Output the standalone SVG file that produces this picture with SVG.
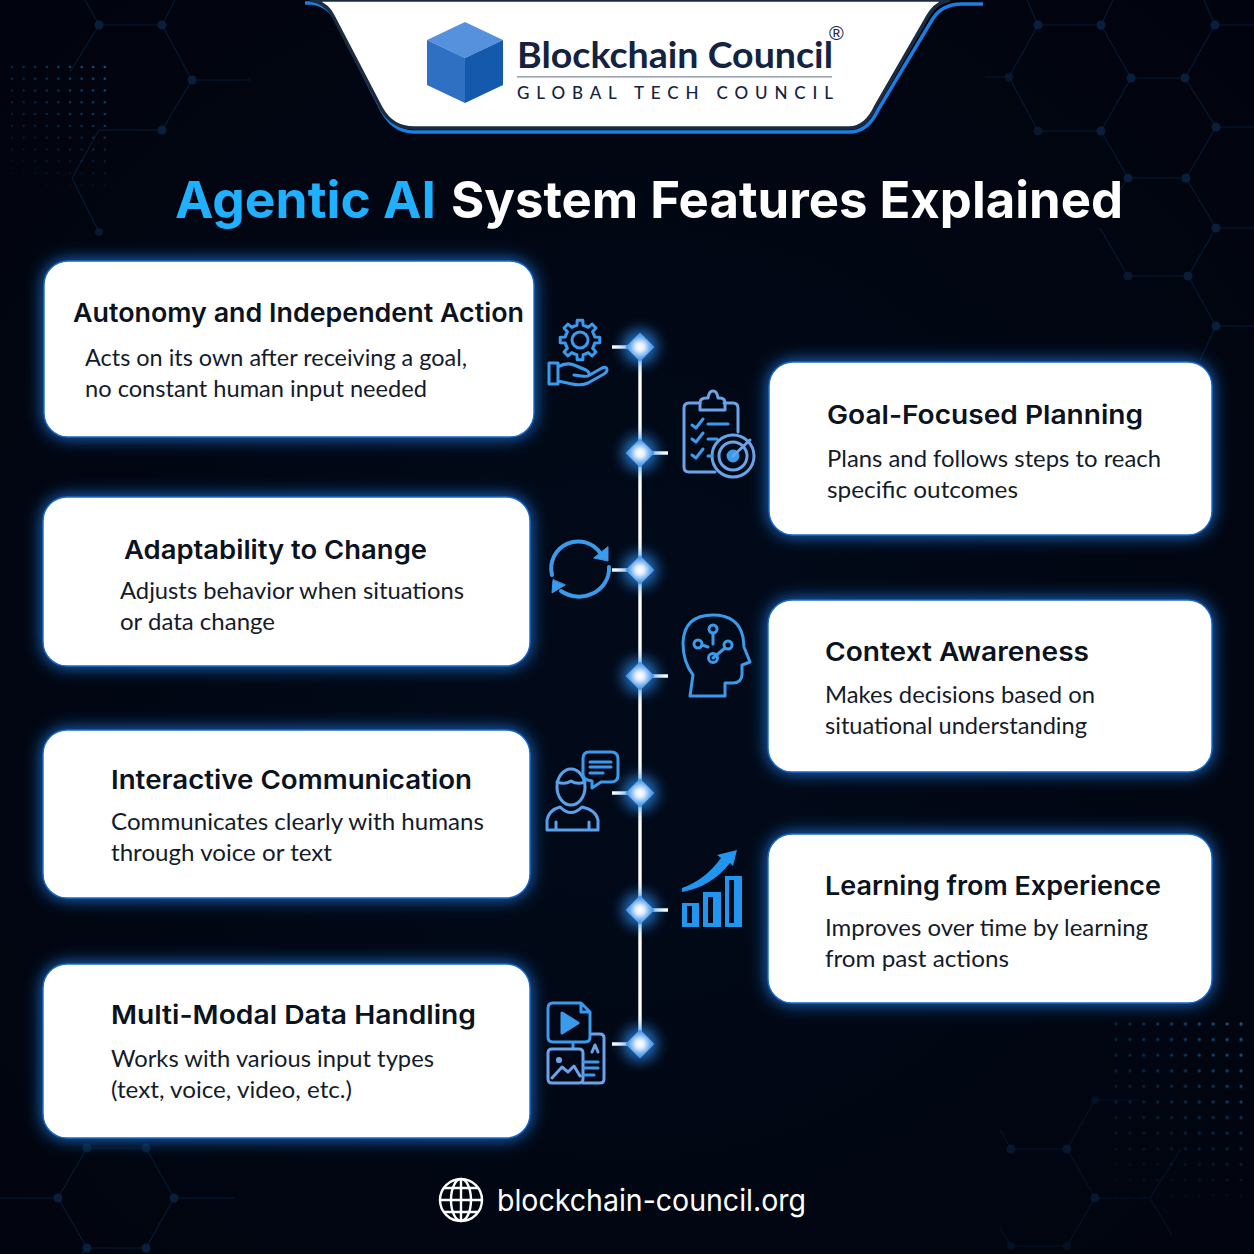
<svg xmlns="http://www.w3.org/2000/svg" width="1254" height="1254" viewBox="0 0 1254 1254">
<style>
.t{font-family:"Inter","Liberation Sans",sans-serif;font-weight:600;font-size:26px;fill:#0b1220}
.b{font-family:"Lato","Liberation Sans",sans-serif;font-weight:400;font-size:23.5px;fill:#141b2b}
.card{fill:#fff;stroke:#1a68c8;stroke-width:1.4}
.glow{fill:#1a7ce8;filter:url(#blur)}
.hex{fill:none;stroke:#0a2240;stroke-width:1.2}
.hexn{fill:#08203c}
.ic{fill:none;stroke:#3a9bec;stroke-width:3;stroke-linecap:round;stroke-linejoin:round}
.ic2{fill:none;stroke:#6ba3e8;stroke-width:3;stroke-linecap:round;stroke-linejoin:round}
.wl{stroke:#fff;stroke-width:3.4;fill:none}
.gl{fill:none;stroke:#fff;stroke-width:2.4}
</style>
<defs>
<filter id="blur" x="-15%" y="-25%" width="130%" height="150%"><feGaussianBlur stdDeviation="9"/></filter>
<filter id="dg" x="-150%" y="-150%" width="400%" height="400%"><feGaussianBlur stdDeviation="7"/></filter>
<radialGradient id="bg" cx="50%" cy="55%" r="70%"><stop offset="0" stop-color="#020a1a"/><stop offset="1" stop-color="#01040e"/></radialGradient>
<radialGradient id="dia" cx="50%" cy="50%" r="58%"><stop offset="0" stop-color="#fff"/><stop offset=".25" stop-color="#e4effc"/><stop offset=".6" stop-color="#6aaaf0"/><stop offset="1" stop-color="#1a80e2"/></radialGradient>
<linearGradient id="fv" x1="0" x2="0" y1="0" y2="1"><stop offset="0" stop-color="#fff"/><stop offset=".5" stop-color="#999"/><stop offset="1" stop-color="#111"/></linearGradient>
<linearGradient id="fh" x1="0" x2="1" y1="0" y2="0"><stop offset="0" stop-color="#555"/><stop offset="1" stop-color="#fff"/></linearGradient>
<mask id="m1" maskUnits="userSpaceOnUse" x="0" y="60" width="112" height="130"><rect x="0" y="60" width="112" height="130" fill="url(#fv)"/></mask>
<mask id="m1h" maskUnits="userSpaceOnUse" x="0" y="60" width="112" height="130"><rect x="0" y="60" width="112" height="130" fill="url(#fh)"/></mask>
<mask id="m2" maskUnits="userSpaceOnUse" x="1105" y="1016" width="149" height="190"><rect x="1105" y="1016" width="149" height="190" fill="url(#fv)"/></mask>
<mask id="m2h" maskUnits="userSpaceOnUse" x="1105" y="1016" width="149" height="190"><rect x="1105" y="1016" width="149" height="190" fill="url(#fh)"/></mask>
<pattern id="p1" patternUnits="userSpaceOnUse" x="6.2" y="61" width="11.6" height="11.8"><circle cx="5.8" cy="5.9" r="1.3" fill="#17609e"/></pattern>
<pattern id="p2" patternUnits="userSpaceOnUse" x="1109" y="1016.2" width="13.9" height="15.6"><circle cx="6.95" cy="7.8" r="1.6" fill="#17609e"/></pattern>
<g id="d"><circle r="17" fill="#2a8ef0" opacity=".8" filter="url(#dg)"/><path d="M0-14.5 14.5 0 0 14.5-14.5 0Z" fill="url(#dia)"/></g>
<path id="gt" d="M-5.74-13.86-3.12-14.67-2.78-19.8 2.78-19.8 3.12-14.67 5.74-13.86"/>
</defs>
<rect width="1254" height="1254" fill="url(#bg)"/>

<g id="background">
<g opacity=".75">
<path class="hex" d="M85 0 99 25H162L175 0M99 25 70 72M162 25 192 80 162 130H99L72 178 99 232M192 80H250"/>
<path class="hex" d="M1027 0 1038 25H1101L1113 0M1038 25 1009 77 1038 131H1101L1131 78 1101 25M1009 77H985M1131 78H1185L1215 25 1204 0M1215 25H1254M1185 78 1216 127H1254M1101 131 1128 178H1186L1216 127M1186 178 1216 228H1254M1216 228 1188 276H1128L1100 228M1188 276 1216 326H1254M1216 326 1200 360M1128 178 1120 190"/>
<path class="hex" d="M0 1198H58L87 1148H146L174 1198 146 1248H87L58 1198M174 1198H235M87 1248 82 1254M146 1248 150 1254"/>
</g>
<path class="hex" opacity=".5" d="M1011 1149H1067L1095 1198H1150L1172 1235M1067 1149 1095 1100H1140M1011 1149 1000 1130M1095 1198 1067 1246H1011L1000 1228M1150 1198 1180 1150"/>
<g class="hexn">
<circle cx="99" cy="25" r="4.5"/><circle cx="162" cy="25" r="4.5"/><circle cx="192" cy="80" r="4.5"/><circle cx="162" cy="130" r="4.5"/><circle cx="99" cy="232" r="4" opacity=".7"/>
<circle cx="1038" cy="25" r="4.5"/><circle cx="1101" cy="25" r="4.5"/><circle cx="1009" cy="77" r="4.5" opacity=".6"/><circle cx="1131" cy="78" r="4.5"/><circle cx="1185" cy="78" r="4.5"/><circle cx="1215" cy="25" r="4.5"/><circle cx="1038" cy="131" r="4.5" opacity=".7"/><circle cx="1101" cy="131" r="4.5"/><circle cx="1216" cy="127" r="4.5"/><circle cx="1128" cy="178" r="4.5"/><circle cx="1186" cy="178" r="4.5"/><circle cx="1216" cy="228" r="4.5"/><circle cx="1128" cy="276" r="4.5" opacity=".7"/><circle cx="1188" cy="276" r="4.5"/><circle cx="1216" cy="326" r="4.5"/>
<circle cx="87" cy="1148" r="4.5" opacity=".8"/><circle cx="146" cy="1148" r="4.5" opacity=".8"/><circle cx="58" cy="1198" r="4.5"/><circle cx="174" cy="1198" r="4.5"/><circle cx="87" cy="1248" r="4.5"/><circle cx="146" cy="1248" r="4.5"/>
<circle cx="1011" cy="1149" r="4.5" opacity=".7"/><circle cx="1067" cy="1149" r="4.5" opacity=".7"/><circle cx="1095" cy="1198" r="4.5" opacity=".7"/><circle cx="1095" cy="1100" r="4" opacity=".4"/><circle cx="1011" cy="1246" r="4" opacity=".4"/><circle cx="1067" cy="1246" r="4" opacity=".4"/>
</g>
<g mask="url(#m1h)"><rect x="6.2" y="61" width="104.4" height="129.8" fill="url(#p1)" mask="url(#m1)"/></g>
<g mask="url(#m2h)"><rect x="1109" y="1016.2" width="139" height="187.2" fill="url(#p2)" mask="url(#m2)"/></g>
</g>

<g id="header">
<path d="M305 3H312Q328 5 336 20L380 107Q392 132 414 132H849Q868 132 878 110L932 20Q942 3 964 4H983" fill="none" stroke="#1a7fe0" stroke-width="3.5"/>
<path d="M310 0Q326 2 333 16L381 108Q392 128 414 128H849Q866 128 876 106L928 16Q936 2 950 0Z" fill="#fff" stroke="#1d2b40" stroke-width="3.5"/>
<g id="logo">
<path d="M465 22 503 40 465 58 427 40Z" fill="#5591dc"/>
<path d="M427 40 465 58V103L427 85Z" fill="#2f70c2"/>
<path d="M503 40 465 58V103L503 85Z" fill="#1559ad"/>
<text x="517" y="68" textLength="316" lengthAdjust="spacingAndGlyphs" font-family="Lato,'Liberation Sans',sans-serif" font-weight="700" font-size="37" fill="#14233f">Blockchain Council</text>
<rect x="517" y="76" width="315" height="1.6" fill="#9aa5b5"/>
<text x="517" y="99" textLength="316" font-family="Lato,'Liberation Sans',sans-serif" font-weight="500" font-size="17" fill="#14233f">GLOBAL TECH COUNCIL</text>
<text x="829" y="40" font-family="'Liberation Sans',sans-serif" font-size="20" fill="#14233f">®</text>
</g>
</g>

<g id="title" font-family="Inter,'Liberation Sans',sans-serif" font-weight="700" font-size="51">
<text x="175" y="218" textLength="261" lengthAdjust="spacingAndGlyphs" fill="#1fb0ff">Agentic AI</text>
<text x="451" y="218" textLength="672" lengthAdjust="spacingAndGlyphs" fill="#fff">System Features Explained</text>
</g>

<g id="connectors">
<path class="wl" d="M640 347V1044M612 347H627M653 453H668M612 570H627M653 676H668M612 793H627M653 910H668M612 1044H627"/>
<use href="#d" x="640" y="347"/><use href="#d" x="640" y="453"/><use href="#d" x="640" y="570"/><use href="#d" x="640" y="676"/><use href="#d" x="640" y="793"/><use href="#d" x="640" y="910"/><use href="#d" x="640" y="1044"/>
</g>

<g id="card-autonomy"><rect class="glow" x="44" y="261" width="490" height="176" rx="24"/><rect class="card" x="44" y="261" width="490" height="176" rx="24"/>
<text class="t" x="73" y="322" textLength="451" lengthAdjust="spacingAndGlyphs">Autonomy and Independent Action</text>
<text class="b" x="85" y="366" textLength="382" lengthAdjust="spacingAndGlyphs">Acts on its own after receiving a goal,</text>
<text class="b" x="85" y="397" textLength="342" lengthAdjust="spacingAndGlyphs">no constant human input needed</text></g>

<g id="card-goal"><rect class="glow" x="769" y="362" width="443" height="173" rx="24"/><rect class="card" x="769" y="362" width="443" height="173" rx="24"/>
<text class="t" x="827" y="424" textLength="316" lengthAdjust="spacingAndGlyphs">Goal-Focused Planning</text>
<text class="b" x="827" y="467" textLength="334" lengthAdjust="spacingAndGlyphs">Plans and follows steps to reach</text>
<text class="b" x="827" y="498" textLength="191" lengthAdjust="spacingAndGlyphs">specific outcomes</text></g>

<g id="card-adaptability"><rect class="glow" x="43" y="497" width="487" height="169" rx="24"/><rect class="card" x="43" y="497" width="487" height="169" rx="24"/>
<text class="t" x="124" y="559" textLength="303" lengthAdjust="spacingAndGlyphs">Adaptability to Change</text>
<text class="b" x="120" y="599" textLength="344" lengthAdjust="spacingAndGlyphs">Adjusts behavior when situations</text>
<text class="b" x="120" y="630" textLength="155" lengthAdjust="spacingAndGlyphs">or data change</text></g>

<g id="card-context"><rect class="glow" x="768" y="600" width="444" height="172" rx="24"/><rect class="card" x="768" y="600" width="444" height="172" rx="24"/>
<text class="t" x="825" y="661" textLength="264" lengthAdjust="spacingAndGlyphs">Context Awareness</text>
<text class="b" x="825" y="703" textLength="270" lengthAdjust="spacingAndGlyphs">Makes decisions based on</text>
<text class="b" x="825" y="734" textLength="262" lengthAdjust="spacingAndGlyphs">situational understanding</text></g>

<g id="card-communication"><rect class="glow" x="43" y="730" width="487" height="168" rx="24"/><rect class="card" x="43" y="730" width="487" height="168" rx="24"/>
<text class="t" x="111" y="789" textLength="361" lengthAdjust="spacingAndGlyphs">Interactive Communication</text>
<text class="b" x="111" y="830" textLength="373" lengthAdjust="spacingAndGlyphs">Communicates clearly with humans</text>
<text class="b" x="111" y="861" textLength="221" lengthAdjust="spacingAndGlyphs">through voice or text</text></g>

<g id="card-learning"><rect class="glow" x="768" y="834" width="444" height="169" rx="24"/><rect class="card" x="768" y="834" width="444" height="169" rx="24"/>
<text class="t" x="825" y="895" textLength="336" lengthAdjust="spacingAndGlyphs">Learning from Experience</text>
<text class="b" x="825" y="936" textLength="323" lengthAdjust="spacingAndGlyphs">Improves over time by learning</text>
<text class="b" x="825" y="967" textLength="184" lengthAdjust="spacingAndGlyphs">from past actions</text></g>

<g id="card-multimodal"><rect class="glow" x="43" y="964" width="487" height="174" rx="24"/><rect class="card" x="43" y="964" width="487" height="174" rx="24"/>
<text class="t" x="111" y="1024" textLength="365" lengthAdjust="spacingAndGlyphs">Multi-Modal Data Handling</text>
<text class="b" x="111" y="1067" textLength="323" lengthAdjust="spacingAndGlyphs">Works with various input types</text>
<text class="b" x="111" y="1098" textLength="241" lengthAdjust="spacingAndGlyphs">(text, voice, video, etc.)</text></g>

<g id="icon-gear-hand" class="ic">
<g transform="translate(580 340)"><use href="#gt"/><use href="#gt" transform="rotate(45)"/><use href="#gt" transform="rotate(90)"/><use href="#gt" transform="rotate(135)"/><use href="#gt" transform="rotate(180)"/><use href="#gt" transform="rotate(225)"/><use href="#gt" transform="rotate(270)"/><use href="#gt" transform="rotate(315)"/><circle r="8"/></g>
<path d="M549 363H558V384H549ZM558 367Q566 362 574 365L586 370Q591 373 588 376Q586 377 574 375M588 376 602 368Q607 366 607 370 607 372 604 374L588 383Q581 386 572 384L558 381"/>
</g>
<g id="icon-clipboard" class="ic2">
<path d="M738 432V408Q738 403 733 403H724M700 403H689Q684 403 684 408V467Q684 472 689 472H715"/>
<path d="M700 410V403Q700 398 706 398H708Q709 391 713 391 717 391 718 398H720Q725 398 725 403V410Z"/>
<circle cx="733" cy="456" r="21"/><circle cx="733" cy="456" r="14"/><circle cx="733" cy="456" r="5" fill="#3a9bec" stroke="#3a9bec"/><path d="M733 456 750 440"/>
<path stroke="#3a9bec" d="M692 425 696 428 703 419M692 439 696 442 703 433M692 455 696 458 703 449M708 424H728M708 439H717M708 456H712"/>
</g>
<g id="icon-sync" class="ic" style="stroke-width:4">
<path d="M552 575A27 27 0 0 1 601 554M609 567A30 28 0 0 1 561 591"/>
<path d="M608 547V561L594 558ZM553 580 552 593 565 585Z" fill="#3a9bec" stroke-width="1"/>
</g>
<g id="icon-head" class="ic">
<path d="M690 696 693 675Q683 662 683 643 684 615 713 615 738 615 743 637L744 647 750 662 742 665V675Q741 683 733 683H725V696Z"/>
<path d="M713 633V644M713 658 725 648M702 645 708 647"/>
<circle cx="713" cy="629" r="4"/><circle cx="728" cy="645" r="4"/><circle cx="713" cy="658" r="4.5"/><circle cx="698" cy="644" r="4"/>
</g>
<g id="icon-person" class="ic">
<g class="ic2" style="stroke:#5aa0ea"><ellipse cx="571" cy="787" rx="14" ry="18"/><path d="M557 782Q565 785 571 781 577 785 585 782"/><path d="M560 807Q549 810 547 820V830H598V820Q596 810 582 807 571 818 560 807ZM556 830V822M589 830V822"/></g>
<path d="M589 752H611Q618 752 618 759V775Q618 782 611 782H601L592 788V781Q583 780 583 774V759Q583 752 589 752ZM590 762H611M590 767H611M590 773H603"/>
</g>
<g id="icon-chart">
<path d="M682 903H699V927H682ZM703 892H721V927H703ZM725 876H742V927H725Z" fill="#2196ee"/>
<path d="M687 906H692V923H687ZM708 897H713V923H708ZM729 880H734V923H729Z" fill="#020a1a"/>
<path d="M682 888Q705 880 721 858L717 855 737 850 733 866 730 863Q711 887 682 892Z" fill="#2196ee"/>
</g>
<g id="icon-media" class="ic">
<path d="M553 1003H581L590 1012V1037Q590 1042 585 1042H553Q548 1042 548 1037V1008Q548 1003 553 1003ZM581 1003V1012H590M573 1042V1048"/>
<path d="M562 1013V1033L578 1023Z" fill="#3a9bec"/>
<g style="stroke:#6ba3e8"><path d="M552 1049H579Q583 1049 583 1053V1079Q583 1083 579 1083H552Q548 1083 548 1079V1053Q548 1049 552 1049ZM552 1078 562 1067 568 1072 574 1066 580 1076"/><circle cx="559" cy="1060" r="1.6"/>
<path d="M592 1034H600Q604 1034 604 1038V1079Q604 1083 600 1083H583M592 1052 595 1045 598 1052"/></g>
<path d="M584 1062H598M584 1068H598M584 1075H594"/>
</g>

<g id="footer">
<g class="gl"><circle cx="461" cy="1200" r="21"/><ellipse cx="461" cy="1200" rx="10" ry="21"/><path d="M461 1179V1221M440 1200H482M444 1188H478M444 1212H478"/></g>
<text x="497" y="1211" textLength="309" lengthAdjust="spacingAndGlyphs" font-family="Inter,'Liberation Sans',sans-serif" font-size="30" fill="#fff">blockchain-council.org</text>
</g>
</svg>
